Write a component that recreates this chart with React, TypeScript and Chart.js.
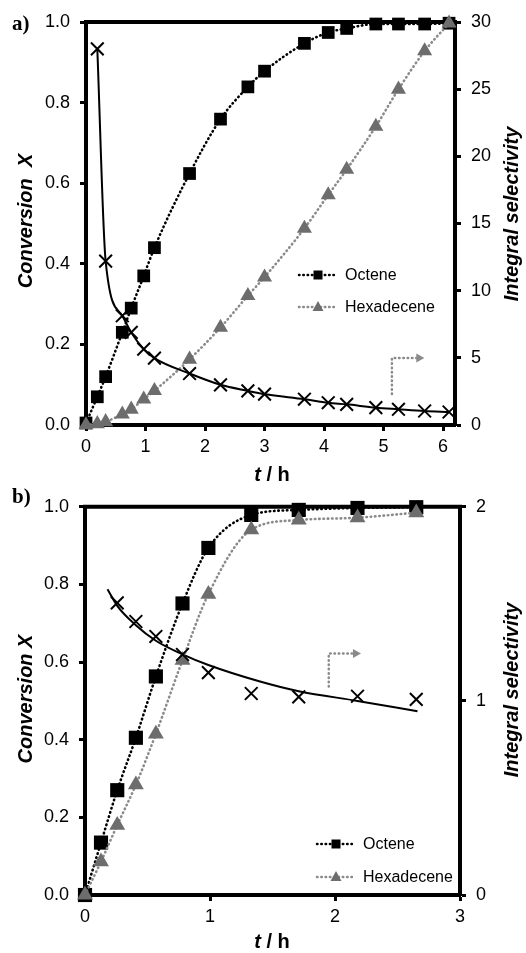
import React, { useEffect, useRef } from 'react';
import { Chart, registerables } from 'chart.js';

Chart.register(...registerables);

const SANS = '"Liberation Sans", Arial, sans-serif';
const SERIF = '"Liberation Serif", "Times New Roman", serif';

// ---------------- Panel a data ----------------
const timeA = [0, 0.19, 0.33, 0.61, 0.76, 0.97, 1.15, 1.74, 2.26, 2.72, 3.0, 3.67, 4.07, 4.38, 4.87, 5.25, 5.69, 6.1];
const octeneA = [0.005, 0.07, 0.12, 0.23, 0.29, 0.37, 0.44, 0.624, 0.759, 0.839, 0.878, 0.947, 0.974, 0.984, 0.995, 0.995, 0.995, 0.997];
const hexadeceneA = [0, 0.003, 0.008, 0.027, 0.039, 0.064, 0.085, 0.163, 0.242, 0.321, 0.367, 0.488, 0.571, 0.634, 0.741, 0.833, 0.928, 0.997];
const selectivityA = [null, 28.0, 12.2, 8.13, 6.89, 5.65, 4.98, 3.83, 2.99, 2.54, 2.3, 1.92, 1.66, 1.54, 1.29, 1.17, 1.04, 0.97];
const xMaxA = 6.2;
const selMaxA = 30;
const selStepA = 5;
const arrowTimeA = [5.14, 5.14, 5.55];
const arrowConvA = [0.077, 0.166, 0.166];

// ---------------- Panel b data ----------------
const timeB = [0, 0.128, 0.258, 0.407, 0.567, 0.78, 0.987, 1.33, 1.71, 2.18, 2.65];
const octeneB = [0, 0.135, 0.27, 0.405, 0.563, 0.751, 0.894, 0.979, 0.992, 0.997, 0.999];
const hexadeceneB = [0, 0.086, 0.18, 0.284, 0.415, 0.605, 0.775, 0.941, 0.966, 0.972, 0.985];
const selectivityB = [null, null, 1.505, 1.409, 1.332, 1.239, 1.146, 1.038, 1.021, 1.024, 1.008];
const fitTimeB = [0.18, 0.258, 0.407, 0.567, 0.78, 0.987, 1.4, 1.71, 2.18, 2.66];
const fitSelB = [1.575, 1.49, 1.39, 1.31, 1.24, 1.185, 1.1, 1.05, 1.0, 0.947];
const xMaxB = 3;
const selMaxB = 2;
const selStepB = 1;
const arrowTimeB = [1.95, 1.95, 2.144];
const arrowConvB = [0.537, 0.622, 0.622];

// shared
const convMax = 1;
const convStep = 0.2;
const seriesNames = ['Octene', 'Hexadecene'];

const pts = (xs: number[], ys: (number | null)[]) =>
  xs.map((x, i) => ({ x, y: ys[i] })).filter((p) => p.y !== null);

const BLACK = '#000000';
const GRAY_PT = '#6d6d6d';
const GRAY_LN = '#8a8a8a';

const decorPlugin = {
  id: 'decor',
  beforeDatasetsDraw(chart: any, _a: any, o: any) {
    const { ctx, chartArea: a } = chart;
    ctx.save();
    ctx.strokeStyle = BLACK;
    ctx.lineWidth = 4;
    ctx.beginPath();
    ctx.moveTo(a.left - 2, a.top);
    ctx.lineTo(a.right + 2, a.top);
    ctx.stroke();
    // arrow annotation
    const xs = chart.scales.x;
    const ys = chart.scales.y;
    const p = o.arrowT.map((t: number, i: number) => [xs.getPixelForValue(t), ys.getPixelForValue(o.arrowV[i])]);
    ctx.strokeStyle = GRAY_LN;
    ctx.lineWidth = 2.5;
    ctx.lineCap = 'round';
    ctx.setLineDash([0.5, 3.8]);
    ctx.beginPath();
    p.forEach((q: number[], i: number) => (i ? ctx.lineTo(q[0], q[1]) : ctx.moveTo(q[0], q[1])));
    ctx.stroke();
    ctx.setLineDash([]);
    const [ex, ey] = p[p.length - 1];
    ctx.fillStyle = GRAY_LN;
    ctx.beginPath();
    ctx.moveTo(ex, ey - 4.5);
    ctx.lineTo(ex + 8, ey);
    ctx.lineTo(ex, ey + 4.5);
    ctx.closePath();
    ctx.fill();
    ctx.restore();
  },
  afterDraw(chart: any, _a: any, o: any) {
    const { ctx } = chart;
    ctx.save();
    // legend
    const L = o.legend;
    const items = [
      { name: seriesNames[0], color: BLACK, mark: 'rect' },
      { name: seriesNames[1], color: GRAY_LN, mark: 'tri' },
    ];
    items.forEach((it, i) => {
      const y = L.y + i * L.dy;
      ctx.strokeStyle = it.color;
      ctx.lineWidth = 2.5;
      ctx.lineCap = 'round';
      ctx.setLineDash([0.5, 3.8]);
      ctx.beginPath();
      ctx.moveTo(L.x0, y);
      ctx.lineTo(L.x1, y);
      ctx.stroke();
      ctx.setLineDash([]);
      const cx = (L.x0 + L.x1) / 2;
      if (it.mark === 'rect') {
        ctx.fillStyle = BLACK;
        ctx.fillRect(cx - 4.5, y - 4.5, 9, 9);
      } else {
        ctx.fillStyle = GRAY_PT;
        ctx.beginPath();
        ctx.moveTo(cx, y - 6);
        ctx.lineTo(cx + 5.5, y + 4);
        ctx.lineTo(cx - 5.5, y + 4);
        ctx.closePath();
        ctx.fill();
      }
      ctx.fillStyle = BLACK;
      ctx.font = `16px ${SANS}`;
      ctx.textAlign = 'left';
      ctx.textBaseline = 'middle';
      ctx.fillText(it.name, L.x1 + 8, y + 1);
    });
    // axis titles
    ctx.fillStyle = BLACK;
    ctx.textAlign = 'center';
    ctx.textBaseline = 'middle';
    ctx.font = `italic bold 20px ${SANS}`;
    ctx.save();
    ctx.translate(o.leftTitle[0], o.leftTitle[1]);
    ctx.rotate(-Math.PI / 2);
    ctx.fillText(o.leftText, 0, 0);
    ctx.restore();
    ctx.save();
    ctx.translate(o.rightTitle[0], o.rightTitle[1]);
    ctx.rotate(-Math.PI / 2);
    ctx.fillText('Integral selectivity', 0, 0);
    ctx.restore();
    // t / h
    const f1 = `italic bold 20px ${SANS}`;
    const f2 = `bold 20px ${SANS}`;
    ctx.font = f1;
    const w1 = ctx.measureText('t').width;
    ctx.font = f2;
    const w2 = ctx.measureText(' / h').width;
    const sx = o.bottomTitle[0] - (w1 + w2) / 2;
    ctx.textAlign = 'left';
    ctx.font = f1;
    ctx.fillText('t', sx, o.bottomTitle[1]);
    ctx.font = f2;
    ctx.fillText(' / h', sx + w1, o.bottomTitle[1]);
    // panel label
    ctx.font = `bold 21px ${SERIF}`;
    ctx.fillText(o.panelLabel, o.panelPos[0], o.panelPos[1]);
    ctx.restore();
  },
};

function buildConfig(p: any) {
  const dotted = {
    borderDash: [0.5, 3.8],
    borderCapStyle: 'round',
    borderWidth: 2.6,
    cubicInterpolationMode: 'monotone',
    clip: false,
  };
  const datasets: any[] = [
    {
      ...dotted,
      label: seriesNames[0],
      data: pts(p.time, p.oct),
      yAxisID: 'y',
      borderColor: BLACK,
      backgroundColor: BLACK,
      pointStyle: 'rect',
      pointRadius: p.sqR,
      pointBorderWidth: 0,
      pointBackgroundColor: BLACK,
      order: 2,
    },
    {
      ...dotted,
      label: seriesNames[1],
      data: pts(p.time, p.hex),
      yAxisID: 'y',
      borderColor: GRAY_LN,
      backgroundColor: GRAY_PT,
      pointStyle: 'triangle',
      pointRadius: p.triR,
      pointBorderWidth: 0,
      pointBackgroundColor: GRAY_PT,
      order: 1,
    },
    {
      label: 'Selectivity',
      data: pts(p.time, p.sel),
      yAxisID: 'y2',
      showLine: p.selLine,
      borderColor: BLACK,
      borderWidth: 2,
      cubicInterpolationMode: 'monotone',
      pointStyle: 'crossRot',
      pointRadius: p.crossR,
      pointBorderWidth: 2,
      pointBorderColor: BLACK,
      clip: false,
      order: 0,
    },
  ];
  if (p.fitT) {
    datasets.push({
      label: 'Fit',
      data: pts(p.fitT, p.fitV),
      yAxisID: 'y2',
      borderColor: BLACK,
      borderWidth: 2,
      cubicInterpolationMode: 'monotone',
      pointRadius: 0,
      clip: false,
      order: 3,
    });
  }
  const tickFont = { family: SANS, size: 18 };
  const axisCommon = {
    grid: { display: true, drawOnChartArea: false, drawTicks: true, tickLength: 6, tickWidth: 3, tickColor: BLACK },
    border: { display: true, width: 4, color: BLACK },
  };
  return {
    type: 'line',
    data: { datasets },
    options: {
      animation: false,
      responsive: false,
      devicePixelRatio: 1,
      layout: { padding: { top: p.padTop, left: 0, right: 0, bottom: 0 } },
      plugins: {
        legend: { display: false },
        tooltip: { enabled: false },
        decor: p.decor,
      },
      scales: {
        x: {
          type: 'linear',
          min: 0,
          max: p.xMax,
          ...axisCommon,
          ticks: { stepSize: 1, includeBounds: false, font: tickFont, color: BLACK, padding: 5, maxRotation: 0 },
          afterFit: (s: any) => { s.height = p.xH; },
        },
        y: {
          type: 'linear',
          position: 'left',
          min: 0,
          max: convMax,
          ...axisCommon,
          ticks: { stepSize: convStep, font: tickFont, color: BLACK, padding: 10, callback: (v: any) => Number(v).toFixed(1) },
          afterFit: (s: any) => { s.width = p.yW; },
        },
        y2: {
          type: 'linear',
          position: 'right',
          min: 0,
          max: p.selMax,
          ...axisCommon,
          ticks: { stepSize: p.selStep, font: tickFont, color: BLACK, padding: 10 },
          afterFit: (s: any) => { s.width = p.y2W; },
        },
      },
    },
    plugins: [decorPlugin],
  };
}

const panelA = {
  time: timeA, oct: octeneA, hex: hexadeceneA, sel: selectivityA, selLine: true,
  xMax: xMaxA, selMax: selMaxA, selStep: selStepA,
  sqR: 9, triR: 8.7, crossR: 9,
  padTop: 22, xH: 61, yW: 86, y2W: 71,
  decor: {
    arrowT: arrowTimeA, arrowV: arrowConvA,
    legend: { x0: 299, x1: 337, y: 275, dy: 32 },
    leftText: 'Conversion  X', leftTitle: [26, 221], rightTitle: [512, 214], bottomTitle: [272, 475],
    panelLabel: 'a)', panelPos: [12, 25],
  },
};

const panelB = {
  time: timeB, oct: octeneB, hex: hexadeceneB, sel: selectivityB, selLine: false,
  fitT: fitTimeB, fitV: fitSelB,
  xMax: xMaxB, selMax: selMaxB, selStep: selStepB,
  sqR: 10, triR: 9.2, crossR: 9,
  padTop: 13, xH: 58, yW: 85, y2W: 66,
  decor: {
    arrowT: arrowTimeB, arrowV: arrowConvB,
    legend: { x0: 317, x1: 355, y: 358, dy: 33 },
    leftText: 'Conversion X', leftTitle: [26, 213], rightTitle: [512, 204], bottomTitle: [272, 456],
    panelLabel: 'b)', panelPos: [12, 12],
  },
};

export default function App() {
  const refA = useRef<HTMLCanvasElement>(null);
  const refB = useRef<HTMLCanvasElement>(null);
  useEffect(() => {
    const a = new Chart(refA.current as any, buildConfig(panelA) as any);
    const b = new Chart(refB.current as any, buildConfig(panelB) as any);
    return () => {
      a.destroy();
      b.destroy();
    };
  }, []);
  return (
    <div style={{ position: 'fixed', left: 0, top: 0, width: 526, height: 953, background: '#fff' }}>
      <canvas ref={refA} width={526} height={486} style={{ position: 'absolute', left: 0, top: 0, width: 526, height: 486 }} />
      <canvas ref={refB} width={526} height={467} style={{ position: 'absolute', left: 0, top: 486, width: 526, height: 467 }} />
    </div>
  );
}
